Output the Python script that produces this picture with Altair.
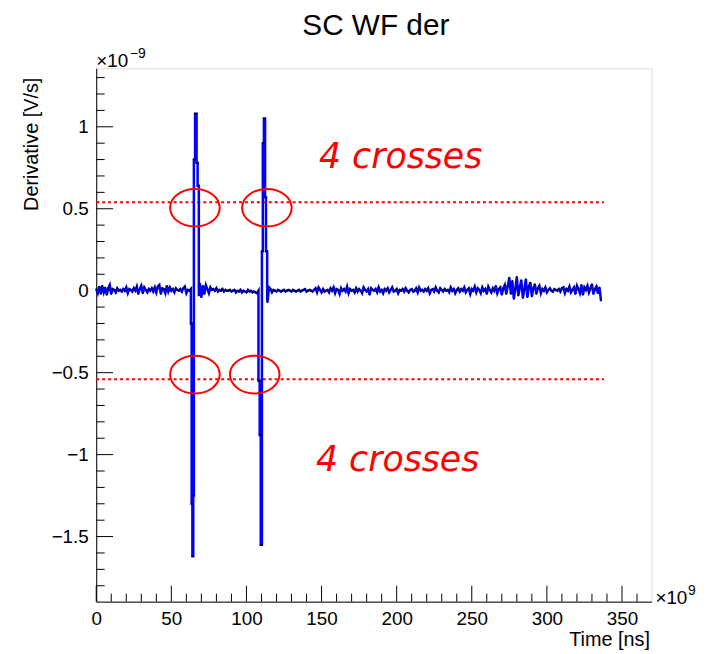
import altair as alt
import pandas as pd

# ---- waveform values (axis units, x1e-9), noise segments in thousandths ----
seg1_t0 = 0
seg1 = [10, -15, 25, -20, 30, -10, 20, -25, 15, 35, -20, 10, 5, -10, 15, 0, 5, -5, 10, 0,
        20, -15, 10, 5, -5, 15, 0, 25, -20, 10, 30, -15, 20, 5, -10, 10, 0, 15, -5, 20,
        -10, 25, 35, -20, 15, 10, -15, 30, -5, 20, 0, 10, -10, 15, 5, 0, 10, -5, 15, 25, -15, 5, 0]
pulse1_t = [63.0, 63.0, 63.5, 63.5, 64.0, 64.0, 64.6, 64.6, 65.0, 65.0, 65.8, 65.8, 66.8, 66.8, 67.5, 67.5, 68.3, 68.3]
pulse1_v = [0.01, -0.20, -0.20, -1.30, -1.30, -1.62, -1.62, -1.25, -1.25, 0.80, 0.80, 1.08, 1.08, 0.78, 0.78, 0.64, 0.64, -0.03]
seg2_t0 = 69
seg2 = [45, -40, 30, -20, 35, 10, -15, 20, 5, 10, 0, 15, -5, 5, 0, 10, -5, 5, 0, 0,
        5, -5, 0, 5, -10, 0, -5, 5, -10, 0, -5, -10, 5, -5, 0, -10, -5, -10, -15]
pulse2_t = [108.0, 108.0, 108.8, 108.8, 109.5, 109.5, 110.3, 110.3, 110.9, 110.9, 111.6, 111.6, 112.4, 112.4, 113.0, 113.0, 113.8, 113.8]
pulse2_v = [0.0, -0.55, -0.55, -0.88, -0.88, -1.55, -1.55, 0.24, 0.24, 0.90, 0.90, 1.05, 1.05, 0.57, 0.57, 0.24, 0.24, -0.05]
seg3_t0 = 114
seg3 = [-70, 20, 10, -10, 5, 0, -5, 5, 0, -5, 0, 5, -5, 0, 5, 0, -5, 5, 0, -5,
        0, 5, -5, 0, 5, 10, -5, 0, 5, 0, -5, 5, 15, -10, 20, 5, -10, 10, -5, 0,
        5, -10, 15, 0, 20, -15, 10, 5, -20, 15, 0, 10, -5, 25, -15, 10, 0, 5, -10, 15,
        -5, 10, 0, -15, 20, 5, -5, 10, -25, 15, 5, 0, 10, -10, 20, -5, 5, -15, 10, 0,
        15, -10, 5, 20, -5, 0, 10, -15, 5, 0, 10, -5, 15, 0, -10, 5, 10, -5, 0, 15,
        -10, 20, 0, 5, -5, 10, 0, 15, -15, 5, 10, -5, 20, 0, -10, 15, 5, -5, 10, 0,
        5, -10, 20, 0, 10, -15, 5, 15, -5, 10, 0, 20, -10, 5, 15, -20, 10, 0, 25, -10,
        15, 5, -15, 20, 0, 10, -20, 25, 5, -10, 15, 0, 30, -15, 10, 20, -25, 15, 35, -20,
        30, 80, -20, 60, -50, 10, 85, -30, 20, 65, -45, 5, 70, -40, 25, 50, -35, 15, 40, -20,
        15, 30, -15, 10, 0, 20, -10, 5, 15, 0, -5, 10, 5, 0, 10, -5, 15, 20, -15, 10,
        0, 25, -10, 5, 20, -20, 30, 10, -15, 35, -25, 20, 5, 30, -10, 15, 40, -20, 10, 25,
        -15, 20, -60]

# ---- annotations ----
title_text = "SC WF der"
thr_v = [0.54, -0.54]
thr_t0 = [0, 0]
thr_t1 = [338, 338]
ell_t = [65.7, 113.6, 65.7, 105.5]
ell_v = [0.506, 0.506, -0.512, -0.512]
ann_t = [148.3, 146.3]
ann_v = [0.75, -1.10]
ann_text = ["4 crosses", "4 crosses"]

# ---- axes ----
x_major = [0, 50, 100, 150, 200, 250, 300, 350]
x_minor = [10, 20, 30, 40, 60, 70, 80, 90, 110, 120, 130, 140, 160, 170, 180, 190,
           210, 220, 230, 240, 260, 270, 280, 290, 310, 320, 330, 340, 360]
y_major = [-1.5, -1, -0.5, 0, 0.5, 1]
y_minor = [-1.8, -1.7, -1.6, -1.4, -1.3, -1.2, -1.1, -0.9, -0.8, -0.7, -0.6, -0.4, -0.3,
           -0.2, -0.1, 0.1, 0.2, 0.3, 0.4, 0.6, 0.7, 0.8, 0.9, 1.1, 1.2, 1.3]
x_dom = [0, 369.6]
y_dom = [-1.897, 1.357]

W, H = 560, 538
FONT = "Liberation Sans"

rows = []
for k, val in enumerate(seg1):
    rows.append((seg1_t0 + k, val / 1000))
rows += list(zip(pulse1_t, pulse1_v))
for k, val in enumerate(seg2):
    rows.append((seg2_t0 + k, val / 1000))
rows += list(zip(pulse2_t, pulse2_v))
for k, val in enumerate(seg3):
    rows.append((seg3_t0 + k, val / 1000))
wf = pd.DataFrame(rows, columns=["t", "v"])
wf["i"] = range(len(wf))

xs = alt.Scale(domain=x_dom, nice=False, zero=False)
ys = alt.Scale(domain=y_dom, nice=False, zero=False)

xaxis = alt.Axis(values=x_major, format="d", ticks=False, grid=False, labelFont=FONT,
                 labelFontSize=19, labelColor="black", labelPadding=8, labelFlush=False,
                 labelOverlap=False, domainColor="black", domainWidth=1,
                 title="Time [ns]", titleFont=FONT, titleFontSize=20, titleFontWeight="normal",
                 titleColor="black", titleAlign="right", titleBaseline="alphabetic",
                 titleX=W - 2, titleY=44)
yaxis = alt.Axis(values=y_major, format="~g", ticks=False, grid=False, labelFont=FONT,
                 labelFontSize=19, labelColor="black", labelPadding=8, labelFlush=False,
                 labelOverlap=False, domainColor="black", domainWidth=1,
                 title="Derivative [V/s]", titleFont=FONT, titleFontSize=20,
                 titleFontWeight="normal", titleColor="black", titleAngle=270,
                 titleAlign="right", titleBaseline="alphabetic", titleX=-59, titleY=9)

line = alt.Chart(wf).mark_line(color="#0000ff", strokeWidth=2.5).encode(
    x=alt.X("t:Q", scale=xs, axis=xaxis),
    y=alt.Y("v:Q", scale=ys, axis=yaxis),
    order="i:Q",
)
dots = alt.Chart(wf).mark_point(filled=True, color="black", size=3, opacity=1).encode(
    x=alt.X("t:Q", scale=xs), y=alt.Y("v:Q", scale=ys)
)

thr = alt.Chart(pd.DataFrame({"v": thr_v, "t0": thr_t0, "t1": thr_t1})).mark_rule(
    color="#ff0000", strokeWidth=2, strokeDash=[3, 3]
).encode(x=alt.X("t0:Q", scale=xs), x2="t1:Q", y=alt.Y("v:Q", scale=ys))

ellipse_path = "M-1,0A1,0.76,0,1,1,1,0A1,0.76,0,1,1,-1,0Z"
ell = alt.Chart(pd.DataFrame({"t": ell_t, "v": ell_v})).mark_point(
    shape=ellipse_path, filled=False, size=2500, stroke="#ff0000", strokeWidth=2, opacity=1
).encode(x=alt.X("t:Q", scale=xs), y=alt.Y("v:Q", scale=ys))

ann = alt.Chart(pd.DataFrame({"t": ann_t, "v": ann_v, "s": ann_text})).mark_text(
    font="DejaVu Sans", fontStyle="italic", fontSize=35, color="#ff0000",
    align="left", baseline="alphabetic"
).encode(x=alt.X("t:Q", scale=xs), y=alt.Y("v:Q", scale=ys), text="s:N")

# inward ticks
xt_major = alt.Chart(pd.DataFrame({"t": x_major})).mark_rule(color="black", strokeWidth=1).encode(
    x=alt.X("t:Q", scale=xs), y=alt.value(H), y2=alt.value(H - 16))
xt_minor = alt.Chart(pd.DataFrame({"t": x_minor})).mark_rule(color="black", strokeWidth=1).encode(
    x=alt.X("t:Q", scale=xs), y=alt.value(H), y2=alt.value(H - 8))
yt_major = alt.Chart(pd.DataFrame({"v": y_major})).mark_rule(color="black", strokeWidth=1).encode(
    y=alt.Y("v:Q", scale=ys), x=alt.value(0), x2=alt.value(17))
yt_minor = alt.Chart(pd.DataFrame({"v": y_minor})).mark_rule(color="black", strokeWidth=1).encode(
    y=alt.Y("v:Q", scale=ys), x=alt.value(0), x2=alt.value(8.5))

one = pd.DataFrame({"a": [0]})
def label(txt, x, y, size, align="left"):
    return alt.Chart(one).mark_text(font=FONT, fontSize=size, color="black", align=align,
                                    baseline="alphabetic").encode(
        x=alt.value(x), y=alt.value(y), text=alt.value(txt))

title = label(title_text, W / 2 + 2, -34, 30, align="center")
ymul = label("\u00d710", 0, -1, 19) + label("\u22129", 34, -10, 14)
xmul = label("\u00d710", 564, 540, 19) + label("9", 597, 531, 14)

chart = alt.layer(
    xt_minor, xt_major, yt_minor, yt_major, thr, line, dots, ell, ann, title, ymul, xmul
).properties(
    width=W, height=H,
    padding={"left": 89, "top": 58, "right": 50, "bottom": 48},
    autosize=alt.AutoSizeParams(type="none"),
).configure_view(stroke="black", strokeWidth=1).configure(background="white")

chart.save("out.html", embed_options={"renderer": "svg", "actions": False})
